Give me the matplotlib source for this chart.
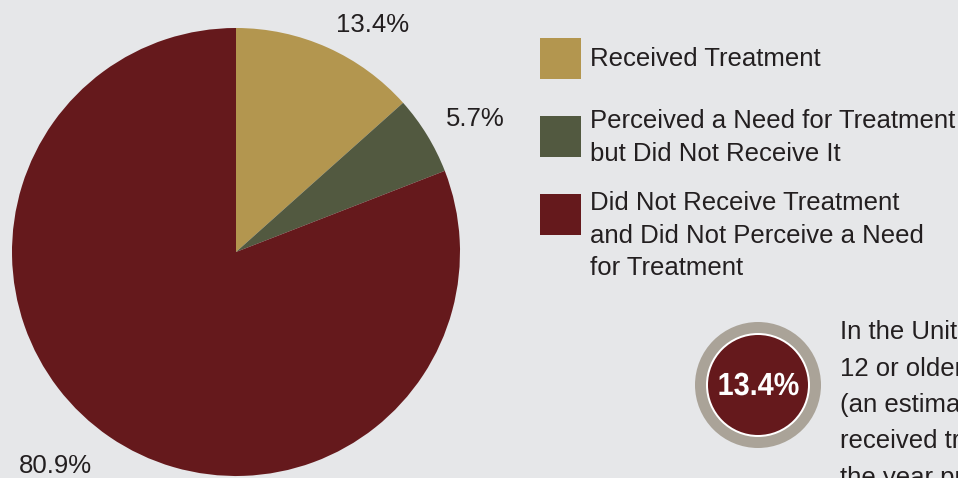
import matplotlib.pyplot as plt
import matplotlib.transforms as mtransforms
from matplotlib.patches import Circle, Rectangle, PathPatch
from matplotlib.textpath import TextPath
from matplotlib.font_manager import FontProperties

# data
labels = ["Received Treatment",
          "Perceived a Need for Treatment\nbut Did Not Receive It",
          "Did Not Receive Treatment\nand Did Not Perceive a Need\nfor Treatment"]
shares = [13.4, 5.7, 80.9]
pct_text = ["13.4%", "5.7%", "80.9%"]
colors = ["#b3964f", "#525940", "#65191c"]
badge_value = "13.4%"
note_lines = ["In the United", "12 or older", "(an estimated",
              "received treatment", "the year prior"]

bg = "#e6e7e9"
W, H = 958, 478
fig = plt.figure(figsize=(W / 100, H / 100), dpi=100, facecolor=bg)
ax = fig.add_axes([0, 0, 1, 1])
ax.set_facecolor(bg)

# pie, coordinates in pixels (y up)
ax.pie(shares, colors=colors, startangle=90, counterclock=False,
       center=(236, H - 252), radius=224, frame=True,
       wedgeprops=dict(linewidth=0))
ax.set_xlim(0, W)
ax.set_ylim(0, H)
ax.set_aspect("equal")
ax.axis("off")

txt = "#231f20"
fnt = "Liberation Sans"
fs = 18.5
label_pos = [(373, 25), (475, 119), (55, 466)]
for t, (x, y) in zip(pct_text, label_pos):
    ax.text(x, H - y, t, fontsize=fs, color=txt, family=fnt,
            ha="center", va="center")

# legend
box_top = [38, 116, 194]
first_line = [59, 121, 203]
for lab, c, yt, yl in zip(labels, colors, box_top, first_line):
    ax.add_patch(Rectangle((540, H - yt - 41), 41, 41, color=c, lw=0))
    for j, part in enumerate(lab.split("\n")):
        ax.text(590, H - yl - j * 32.5, part, fontsize=fs, color=txt,
                family=fnt, ha="left", va="center")

# badge
cx, cy = 758, H - 385
ax.add_patch(Circle((cx, cy), 63, color="#aaa398", lw=0))
ax.add_patch(Circle((cx, cy), 52, color="white", lw=0))
ax.add_patch(Circle((cx, cy), 50, color=colors[2], lw=0))
tp = TextPath((0, 0), badge_value, size=32,
              prop=FontProperties(family="Liberation Sans", weight="bold"))
ext = tp.get_extents()
sx = 0.9
tr = (mtransforms.Affine2D()
      .translate(-(ext.x0 + ext.x1) / 2, -(ext.y0 + ext.y1) / 2)
      .scale(sx, 1.0)
      .translate(cx + 1, cy + 1))
ax.add_patch(PathPatch(tr.transform_path(tp), color="white", lw=0))

for i, line in enumerate(note_lines):
    ax.text(840, H - 332 - i * 36.5, line, fontsize=fs, color=txt,
            family=fnt, ha="left", va="center")

fig.savefig("out.png", dpi=100, facecolor=bg)
